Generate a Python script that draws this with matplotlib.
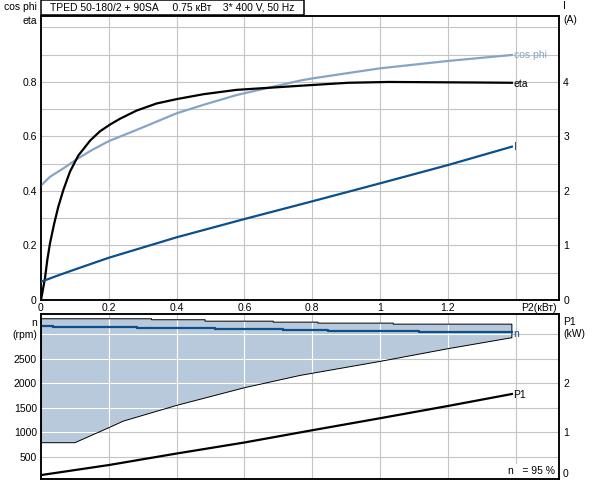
import numpy as np
import matplotlib.pyplot as plt
from matplotlib.patches import Polygon, Rectangle

plt.rcParams['font.family'] = ['Liberation Sans', 'DejaVu Sans']
FS = 7.5

# upper chart: cos phi, eta (left axis), I (right axis, A) vs P2 (kW)
eta_x = [0, 0.0118, 0.0186, 0.0265, 0.039, 0.051, 0.066, 0.0855, 0.11, 0.145, 0.174,
         0.204, 0.233, 0.282, 0.341, 0.4, 0.479, 0.577, 0.764, 0.906, 1.025, 1.285, 1.389]
eta_y = [0, 0.08, 0.147, 0.208, 0.281, 0.342, 0.404, 0.471, 0.53, 0.585, 0.619,
         0.644, 0.665, 0.695, 0.721, 0.737, 0.755, 0.771, 0.786, 0.797, 0.8, 0.798, 0.797]
cos_x = [0, 0.0265, 0.066, 0.11, 0.15, 0.2, 0.282, 0.4, 0.479, 0.577, 0.764, 0.8, 1.0, 1.2, 1.389]
cos_y = [0.42, 0.452, 0.483, 0.52, 0.55, 0.583, 0.624, 0.685, 0.716, 0.752, 0.805, 0.813, 0.85, 0.877, 0.899]
cur_x = [0, 0.05, 0.1, 0.2, 0.4, 0.6, 0.8, 1.0, 1.2, 1.389]
cur_y = [0.335, 0.45, 0.56, 0.775, 1.15, 1.485, 1.81, 2.14, 2.475, 2.813]

# lower chart: speed range (rpm) and P1 (kW)
upper_x = [0, 0.326, 0.484, 0.685, 0.817, 1.039, 1.389]
upper_y = [3316, 3296, 3267, 3247, 3227, 3206, 3206]
lower_x = [0, 0.1, 0.204, 0.243, 0.4, 0.6, 0.764, 1.0, 1.2, 1.389]
lower_y = [786, 786, 1104, 1227, 1547, 1908, 2159, 2445, 2704, 2929]
n_x = [0, 0.036, 0.282, 0.513, 0.714, 0.847, 1.116, 1.389]
n_y = [3165, 3139, 3118, 3098, 3078, 3057, 3037, 3037]
p1_x = [0, 0.2, 0.4, 0.6, 0.8, 1.0, 1.2, 1.389]
p1_y = [0.125, 0.33, 0.565, 0.79, 1.04, 1.285, 1.535, 1.78]

x_ticks = [0, 0.2, 0.4, 0.6, 0.8, 1.0, 1.2, 1.4]
x_labels = ['0', '0.2', '0.4', '0.6', '0.8', '1', '1.2', '']
top_ticks = [0, 0.1, 0.2, 0.3, 0.4, 0.5, 0.6, 0.7, 0.8, 0.9, 1.0]
top_labels = ['0', '', '0.2', '', '0.4', '', '0.6', '', '0.8', '', '']
i_ticks = [0, 1, 2, 3, 4]
rpm_ticks = [500, 1000, 1500, 2000, 2500, 3000]
rpm_labels = ['500', '1000', '1500', '2000', '2500', '(rpm)']
kw_ticks = [1, 2]

title = 'TPED 50-180/2 + 90SA     0.75 кВт    3* 400 V, 50 Hz'

COS_C = '#86a5c6'
BLUE = '#0b4f8c'
SHADE = '#b7c9db'
GRID = '#c4c4c4'
XMAX = 1.528

fig = plt.figure(figsize=(5.92, 4.80), dpi=100)
ax1 = fig.add_axes([41/592, 1-300/480, 518/592, 284/480])
ax2 = fig.add_axes([41/592, 1-479/480, 518/592, 165/480])


def style(ax):
    for s in ax.spines.values():
        s.set_linewidth(1.1)
        s.set_color('black')
    ax.tick_params(length=0, labelsize=FS, pad=3)


# ---- top chart
ax1.set_xlim(0, XMAX)
ax1.set_ylim(0, 1.042)
for v in top_ticks[1:]:
    ax1.axhline(v, color=GRID, lw=0.8, zorder=0.5)
for v in x_ticks[1:]:
    ax1.axvline(v, color=GRID, lw=0.8, zorder=0.5)
ax1.set_xticks(x_ticks)
ax1.set_xticklabels(x_labels)
ax1.set_yticks(top_ticks)
ax1.set_yticklabels(top_labels)
style(ax1)
ax1.tick_params(axis='x', pad=2)

ax1.plot(cos_x, cos_y, color=COS_C, lw=1.6, zorder=3)
ax1.plot(eta_x, eta_y, color='black', lw=1.6, zorder=4)
ax1r = ax1.twinx()
ax1r.set_ylim(0, 5.21)
ax1r.set_yticks(i_ticks)
style(ax1r)
ax1r.plot(cur_x, cur_y, color=BLUE, lw=1.6, zorder=3)

ax1.text(cos_x[-1] + 0.005, cos_y[-1], 'cos phi', color=COS_C, fontsize=FS, va='center')
ax1.text(eta_x[-1] + 0.005, eta_y[-1] - 0.006, 'eta', color='black', fontsize=FS, va='center')
ax1r.text(cur_x[-1] + 0.005, cur_y[-1], 'I', color=BLUE, fontsize=FS, va='center')

fig.text(37/592, 1-7/480, 'cos phi', fontsize=FS, ha='right', va='center')
fig.text(37/592, 1-21/480, 'eta', fontsize=FS, ha='right', va='center')
fig.text(563/592, 1-6/480, 'I', fontsize=FS, ha='left', va='center')
fig.text(563/592, 1-20/480, '(A)', fontsize=FS, ha='left', va='center')
fig.text(557/592, 1-308/480, 'P2(кВт)', fontsize=FS, ha='right', va='center')

fig.patches.append(Rectangle((41/592, 1-15/480), 263/592, 15/480, transform=fig.transFigure,
                             facecolor='white', edgecolor='black', lw=1.1, zorder=5))
fig.text(50/592, 1-7.5/480, title, fontsize=FS, ha='left', va='center', zorder=6)

# ---- bottom chart
ax2.set_xlim(0, XMAX)
ax2.set_ylim(45, 3413)
ax2.set_xticks(x_ticks)
ax2.set_xticklabels([])
ax2.set_yticks(rpm_ticks)
ax2.set_yticklabels(rpm_labels)
style(ax2)

ux = np.repeat(upper_x, 2)[1:-1]
uy = np.repeat(upper_y[:-1], 2)
poly_pts = np.column_stack([np.concatenate([ux, lower_x[::-1]]),
                            np.concatenate([uy, lower_y[::-1]])])
poly = Polygon(poly_pts, closed=True, facecolor=SHADE, edgecolor='none', zorder=1)
ax2.add_patch(poly)

for v in rpm_ticks:
    ax2.axhline(v, color=GRID, lw=0.8, zorder=0.5)
    ln = ax2.axhline(v, color='white', lw=0.8, zorder=1.5)
    ln.set_clip_path(poly)
for v in x_ticks[1:]:
    ax2.axvline(v, color=GRID, lw=0.8, zorder=0.5)
    ln = ax2.axvline(v, color='white', lw=0.8, zorder=1.5)
    ln.set_clip_path(poly)

ax2.plot(poly_pts[:, 0], poly_pts[:, 1], color='black', lw=0.7, zorder=2)
ax2.plot([0, 0], [lower_y[0], upper_y[0]], color='black', lw=0.7, zorder=2)
ax2.plot(n_x, n_y, color=BLUE, lw=1.6, drawstyle='steps-post', zorder=3)
ax2.text(n_x[-1] + 0.005, n_y[-1] - 25, 'n', color=BLUE, fontsize=FS, va='center')

ax2r = ax2.twinx()
ax2r.set_ylim(0.045, 3.413)
ax2r.set_yticks(kw_ticks)
style(ax2r)
ax2r.plot(p1_x, p1_y, color='black', lw=1.6, zorder=3)
ax2r.text(p1_x[-1] + 0.005, p1_y[-1] - 0.02, 'P1', color='black', fontsize=FS, va='center')

fig.text(37/592, 1-322.7/480, 'n', fontsize=FS, ha='right', va='center')
fig.text(563/592, 1-321.7/480, 'P1', fontsize=FS, ha='left', va='center')
fig.text(563/592, 1-334/480, '(kW)', fontsize=FS, ha='left', va='center')
fig.text(563/592, 1-474/480, '0', fontsize=FS, ha='left', va='center')
ax2.text(0.992, 0.05, 'n   = 95 %', transform=ax2.transAxes, fontsize=FS, ha='right', va='center',
         bbox=dict(facecolor='white', edgecolor='none', pad=1.5), zorder=6)

fig.savefig('out.png', dpi=100)
